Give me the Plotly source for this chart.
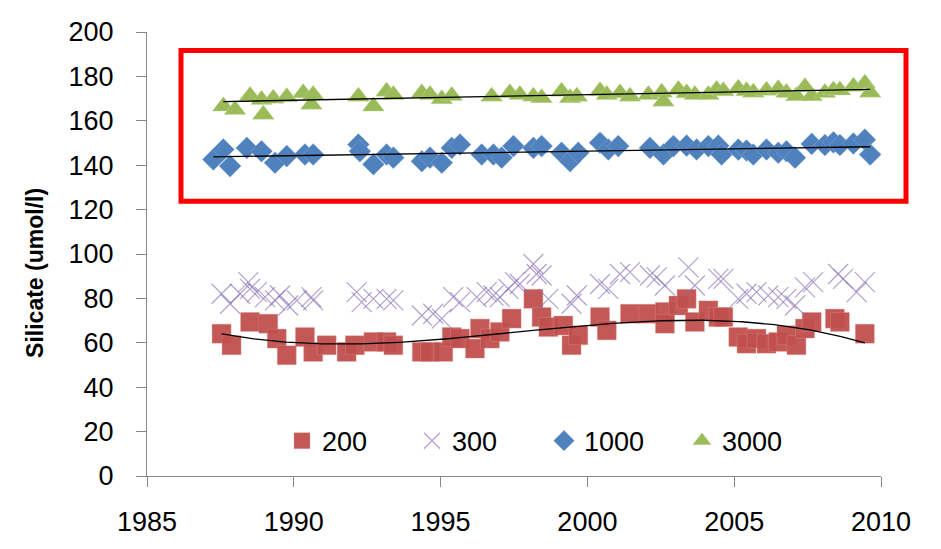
import numpy as np
import plotly.graph_objects as go

# ---------------- data ----------------
x200 = [1987.54, 1987.88, 1988.51, 1989.13, 1989.42, 1989.76, 1990.38, 1990.66, 1991.12, 1991.80,
        1992.08, 1992.71, 1993.16, 1993.39, 1994.36, 1994.64, 1995.09, 1995.38, 1995.66, 1996.17,
        1996.34, 1996.68, 1997.02, 1997.42, 1998.16, 1998.44, 1998.67, 1999.18, 1999.46, 1999.69,
        2000.43, 2000.66, 2001.45, 2002.08, 2002.64, 2002.64, 2003.10, 2003.38, 2003.66, 2004.12,
        2004.46, 2004.63, 2005.14, 2005.42, 2005.76, 2006.10, 2006.50, 2006.78, 2007.12, 2007.41,
        2007.64, 2008.43, 2008.60, 2009.45]
y200 = [64.1, 58.9, 69.4, 68.6, 61.9, 54.4, 62.6, 55.9, 58.9, 55.9,
        58.9, 60.4, 60.4, 58.9, 55.9, 55.9, 55.9, 62.6, 61.9, 57.4,
        66.4, 61.9, 64.9, 70.9, 79.8, 71.6, 67.1, 67.8, 58.9, 63.4,
        71.6, 65.6, 73.1, 73.1, 73.9, 68.6, 76.8, 79.8, 69.4, 74.6,
        71.6, 71.6, 62.6, 59.6, 61.9, 59.6, 60.4, 63.4, 58.9, 66.4,
        69.4, 70.9, 69.4, 64.1]

x300 = [1987.54, 1987.83, 1988.17, 1988.45, 1988.51, 1988.74, 1989.02, 1989.36, 1989.53, 1989.81,
        1990.10, 1990.60, 1990.66, 1992.14, 1992.31, 1992.71, 1993.16, 1993.39, 1994.36, 1994.75,
        1995.04, 1995.43, 1995.66, 1996.23, 1996.57, 1996.80, 1997.02, 1997.31, 1997.53, 1997.70,
        1998.16, 1998.27, 1998.44, 1998.67, 1999.46, 1999.64, 2000.43, 2000.71, 2001.11, 2001.45,
        2002.13, 2002.36, 2002.64, 2003.44, 2003.66, 2004.46, 2004.63, 2005.14, 2005.42, 2005.76,
        2006.16, 2006.50, 2006.78, 2007.07, 2007.41, 2007.69, 2008.54, 2008.71, 2009.17, 2009.45]
y300 = [82.1, 77.6, 82.1, 87.3, 84.3, 82.8, 80.6, 79.1, 81.3, 76.8,
        79.1, 80.6, 79.1, 82.8, 78.3, 79.8, 79.8, 79.1, 72.3, 73.1,
        70.9, 80.6, 78.3, 80.6, 82.8, 81.3, 80.6, 84.3, 87.3, 86.5,
        95.5, 91.0, 90.3, 79.8, 77.6, 81.3, 86.5, 84.3, 91.0, 91.8,
        90.3, 89.5, 85.8, 94.0, 85.8, 88.8, 88.8, 79.8, 82.1, 82.8,
        81.3, 80.6, 79.8, 76.8, 85.0, 87.3, 91.0, 88.8, 82.8, 87.3]

x1000 = [1987.26, 1987.60, 1987.83, 1988.40, 1988.90, 1989.36, 1989.76, 1990.38, 1990.66, 1992.20,
         1992.25, 1992.71, 1993.16, 1993.39, 1994.36, 1994.64, 1995.04, 1995.38, 1995.66, 1996.40,
         1996.80, 1997.08, 1997.48, 1998.16, 1998.44, 1999.12, 1999.41, 1999.69, 2000.43, 2000.71,
         2001.05, 2002.13, 2002.59, 2002.93, 2003.38, 2003.72, 2004.12, 2004.46, 2004.57, 2005.14,
         2005.42, 2005.65, 2006.10, 2006.50, 2006.78, 2007.07, 2007.64, 2008.09, 2008.38, 2008.60,
         2009.06, 2009.45, 2009.63]
y1000 = [142.6, 147.1, 139.6, 147.8, 146.3, 141.1, 144.1, 144.8, 144.8, 149.3,
         146.3, 140.4, 144.8, 143.4, 141.8, 143.4, 141.1, 147.8, 149.3, 144.8,
         144.8, 143.4, 148.6, 147.8, 148.6, 145.6, 141.8, 145.6, 150.1, 147.1,
         148.6, 147.8, 144.8, 148.6, 148.8, 147.1, 148.6, 148.8, 144.8, 147.0,
         146.6, 144.8, 147.1, 145.6, 146.3, 143.4, 149.6, 149.1, 150.3, 149.1,
         149.8, 151.5, 144.8]

x3000 = [1987.60, 1988.00, 1988.51, 1988.90, 1988.96, 1989.30, 1989.76, 1990.32, 1990.60, 1990.66,
         1992.20, 1992.71, 1993.16, 1993.39, 1994.36, 1994.64, 1995.04, 1995.38, 1996.74, 1997.36,
         1997.70, 1998.16, 1998.44, 1999.12, 1999.41, 1999.64, 2000.43, 2000.66, 2001.11, 2001.45,
         2002.08, 2002.53, 2002.59, 2003.10, 2003.38, 2003.66, 2004.12, 2004.40, 2004.63, 2005.14,
         2005.42, 2005.65, 2006.10, 2006.50, 2006.78, 2007.12, 2007.41, 2007.64, 2008.09, 2008.38,
         2008.60, 2009.06, 2009.45, 2009.63]
y3000 = [166.5, 165.0, 171.3, 169.5, 162.8, 170.0, 170.7, 172.5, 167.3, 171.7,
         171.0, 166.5, 173.2, 171.7, 172.5, 171.7, 169.8, 171.3, 171.0, 172.5,
         171.7, 171.0, 170.3, 173.2, 170.3, 171.0, 173.4, 171.7, 172.5, 171.0,
         171.7, 172.8, 168.7, 174.0, 172.5, 171.7, 171.7, 174.0, 173.4, 174.6,
         173.4, 172.8, 173.6, 174.3, 172.6, 171.2, 175.2, 171.2, 172.6, 173.8,
         173.8, 175.4, 176.8, 172.8]

series_names = ["200", "300", "1000", "3000"]
x_ticks = [1985, 1990, 1995, 2000, 2005, 2010]
y_ticks = [0, 20, 40, 60, 80, 100, 120, 140, 160, 180, 200]

# ---------------- figure ----------------
W, H = 941, 549
L, R, T, B = 147, 60, 32, 71
PW, PH = W - L - R, H - T - B

def px_x(p):
    return (p - L) / PW

def px_y(p):
    return (H - B - p) / PH

FONT = "Liberation Sans"
TXT = "#000000"
PURPLE = "rgba(135,110,180,0.65)"

fig = go.Figure()

fig.add_trace(go.Scatter(
    x=x200, y=y200, mode="markers", name=series_names[0], legend="legend",
    marker=dict(symbol="square", size=19, color="#C0504D", opacity=0.95,
                line=dict(width=0.6, color="rgba(230,150,150,0.6)"))))
fig.add_trace(go.Scatter(
    x=x300, y=y300, mode="markers", name=series_names[1], legend="legend2",
    marker=dict(symbol="x-thin-open", size=20, color=PURPLE,
                line=dict(width=1.2, color=PURPLE))))
fig.add_trace(go.Scatter(
    x=x1000, y=y1000, mode="markers", name=series_names[2], legend="legend3",
    marker=dict(symbol="diamond", size=17, color="#4F81BD",
                line=dict(width=0.6, color="rgba(160,190,230,0.6)"))))
fig.add_trace(go.Scatter(
    x=x3000, y=y3000, mode="markers", name=series_names[3], legend="legend4",
    marker=dict(symbol="triangle-up", size=19, color="#9BBB59",
                line=dict(width=0.6, color="rgba(200,225,160,0.6)"))))

# trend lines computed from the series
def trend(xs, ys, deg):
    xs = np.asarray(xs, float)
    ys = np.asarray(ys, float)
    c = np.polyfit(xs - 1998, ys, deg)
    xx = np.linspace(xs.min(), xs.max(), 200)
    return xx, np.polyval(c, xx - 1998)

for xs, ys, deg in [(x200, y200, 3), (x1000, y1000, 1), (x3000, y3000, 1)]:
    xx, yy = trend(xs, ys, deg)
    fig.add_trace(go.Scatter(x=xx, y=yy, mode="lines", showlegend=False,
                             line=dict(color="black", width=1.3), hoverinfo="skip"))

axis_common = dict(showline=True, linecolor="#868686", linewidth=1, ticks="outside",
                   ticklen=10, tickcolor="#868686", tickwidth=1, showgrid=False,
                   zeroline=False, tickfont=dict(family=FONT, size=27, color=TXT))

fig.update_xaxes(range=[1985, 2010], tickvals=x_ticks, ticktext=[str(v) for v in x_ticks],
                 ticklabelstandoff=12, **axis_common)
fig.update_yaxes(range=[0, 200], tickvals=y_ticks, ticktext=[str(v) for v in y_ticks],
                 ticklabelstandoff=17, **axis_common)

leg_common = dict(orientation="h", yanchor="middle", xanchor="left", y=px_y(443),
                  bgcolor="rgba(0,0,0,0)", borderwidth=0,
                  font=dict(family=FONT, size=27, color=TXT), itemwidth=30)
marker_centres = [302, 432, 564, 702]
legends = {}
for i, cx in enumerate(marker_centres):
    key = "legend" if i == 0 else f"legend{i+1}"
    legends[key] = dict(x=px_x(cx - 20), **leg_common)

fig.update_layout(
    width=W, height=H, margin=dict(l=L, r=R, t=T, b=B, pad=0),
    paper_bgcolor="white", plot_bgcolor="white",
    showlegend=True,
    **legends,
    shapes=[dict(type="rect", xref="paper", yref="paper",
                 x0=px_x(181), x1=px_x(906), y0=px_y(202), y1=px_y(50.5),
                 line=dict(color="#FF0000", width=5), fillcolor="rgba(0,0,0,0)")],
    annotations=[dict(text="<b>Silicate (umol/l)</b>", xref="paper", yref="paper",
                      x=px_x(35), y=px_y(274), textangle=-90, showarrow=False,
                      xanchor="center", yanchor="middle",
                      font=dict(family=FONT, size=23, color=TXT))],
)

fig.write_html("out.html")
